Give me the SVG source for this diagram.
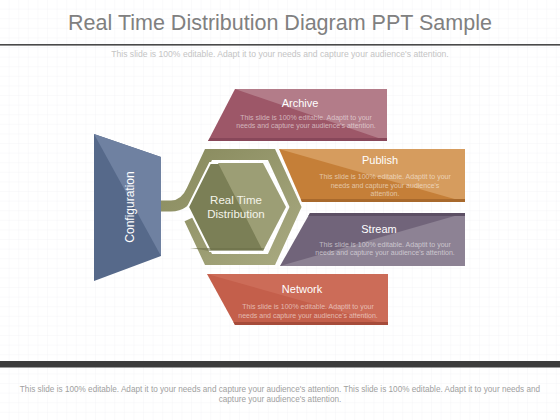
<svg xmlns="http://www.w3.org/2000/svg" width="560" height="420" viewBox="0 0 560 420">
  <defs>
    <pattern id="grid" width="9.6" height="9.6" patternUnits="userSpaceOnUse">
      <path d="M9.6 0 V9.6 M0 9.6 H9.6" fill="none" stroke="#eeeef2" stroke-width="0.6"/>
    </pattern>
    <linearGradient id="ringGrad" x1="0" y1="0" x2="1" y2="1">
      <stop offset="0" stop-color="#87895c"/>
      <stop offset="1" stop-color="#a8a980"/>
    </linearGradient>
    <style>
      .title{font-family:"Liberation Sans",Arial,sans-serif;font-size:21.5px;fill:#808080;text-anchor:middle}
      .sub{font-family:"Liberation Sans",Arial,sans-serif;font-size:8.6px;fill:#c4c4c4;text-anchor:middle}
      .foot{font-family:"Liberation Sans",Arial,sans-serif;font-size:8.2px;fill:#a0a0a0;text-anchor:middle}
      .ph{font-family:"Liberation Sans",Arial,sans-serif;font-size:11px;fill:#ffffff;text-anchor:middle}
      .pb{font-family:"Liberation Sans",Arial,sans-serif;font-size:7px;fill:#ffffff;fill-opacity:0.55;text-anchor:middle}
      .hx{font-family:"Liberation Sans",Arial,sans-serif;font-size:11.5px;fill:#f4f4ea;text-anchor:middle}
      .cf{font-family:"Liberation Sans",Arial,sans-serif;font-size:12px;fill:#ffffff;text-anchor:middle}
    </style>
  </defs>

  <rect width="560" height="420" fill="#ffffff"/>
  <rect width="560" height="420" fill="url(#grid)"/>

  <text class="title" x="280" y="30">Real Time Distribution Diagram PPT Sample</text>
  <rect x="0" y="44" width="560" height="1.6" fill="#4a4a4a"/>
  <text class="sub" x="280" y="56.5">This slide is 100% editable. Adapt it to your needs and capture your audience's attention.</text>

  <g id="configuration">
    <polygon points="94,134 161,157 161,256 94,281" fill="#56698a"/>
    <polygon points="94,134 161,157 161,256" fill="#6f81a1"/>
    <text class="cf" transform="translate(134,207) rotate(-90)" x="0" y="0">Configuration</text>
  </g>

  <g id="connectors">
    <path d="M161,206 L171,206 Q185,206 192,190 L208.5,154.5 L271.5,154.5 L295.5,207 L271.5,259.5 L208.5,259.5 L189.5,219" fill="none" stroke="url(#ringGrad)" stroke-width="11" stroke-linejoin="miter"/>
  </g>

  <g id="real-time-distribution">
    <polygon points="188,207 210,163 263,163 286,207 263,251 210,251" fill="#7b7f56" stroke="#ffffff" stroke-width="2"/>
    <polygon points="218,163 263,163 286,207 263,251" fill="#9c9e75"/>
    <polygon points="190,248 210,251 263,251 264.5,248" fill="#6c6f49" opacity="0.6"/>
    <text class="hx" x="236" y="204">Real Time</text>
    <text class="hx" x="236" y="218">Distribution</text>
  </g>

  <g id="archive">
    <polygon points="235,89 387,89 387,141 208,141" fill="#9d5768"/>
    <polygon points="235,89 387,89 387,141" fill="#b37c89"/>
    <polygon points="210,138 387,138 387,141 208,141" fill="#88475a"/>
    <text class="ph" x="300" y="107">Archive</text>
    <text class="pb" x="306" y="119.5">This slide is 100% editable. Adaptit to your</text>
    <text class="pb" x="306" y="128">needs and capture your audience's attention.</text>
  </g>

  <g id="publish">
    <polygon points="279,149 465,149 465,202 302,202" fill="#c57f38"/>
    <polygon points="279,149 465,149 465,202" fill="#d69c5e"/>
    <polygon points="300.7,199 465,199 465,202 302,202" fill="#a8692c"/>
    <text class="ph" x="380" y="164">Publish</text>
    <text class="pb" x="385" y="179">This slide is 100% editable. Adaptit to your</text>
    <text class="pb" x="385" y="187.5">needs and capture your audience's</text>
    <text class="pb" x="385" y="196">attention.</text>
  </g>

  <g id="stream">
    <polygon points="310,213 465,213 465,266 280,266" fill="#71647a"/>
    <polygon points="465,213 465,266 280,266" fill="#8d8294"/>
    <polygon points="310,213 465,213 465,216 308.3,216" fill="#5c4f64"/>
    <text class="ph" x="379" y="233">Stream</text>
    <text class="pb" x="385" y="246.5">This slide is 100% editable. Adaptit to your</text>
    <text class="pb" x="385" y="255">needs and capture your audience's attention.</text>
  </g>

  <g id="network">
    <polygon points="207,274 388,274 388,325 235,325" fill="#c45f4b"/>
    <polygon points="207,274 388,274 388,325" fill="#cc6c58"/>
    <polygon points="233.4,322 388,322 388,325 235,325" fill="#a64b3a"/>
    <text class="ph" x="302" y="292.5">Network</text>
    <text class="pb" x="308" y="309">This slide is 100% editable. Adaptit to your</text>
    <text class="pb" x="308" y="317.5">needs and capture your audience's attention.</text>
  </g>

  <rect x="0" y="361" width="560" height="6.5" fill="#3d3d3d"/>
  <text class="foot" x="280" y="392">This slide is 100% editable. Adapt it to your needs and capture your audience's attention. This slide is 100% editable. Adapt it to your needs and</text>
  <text class="foot" x="280" y="401.5">capture your audience's attention.</text>
</svg>
